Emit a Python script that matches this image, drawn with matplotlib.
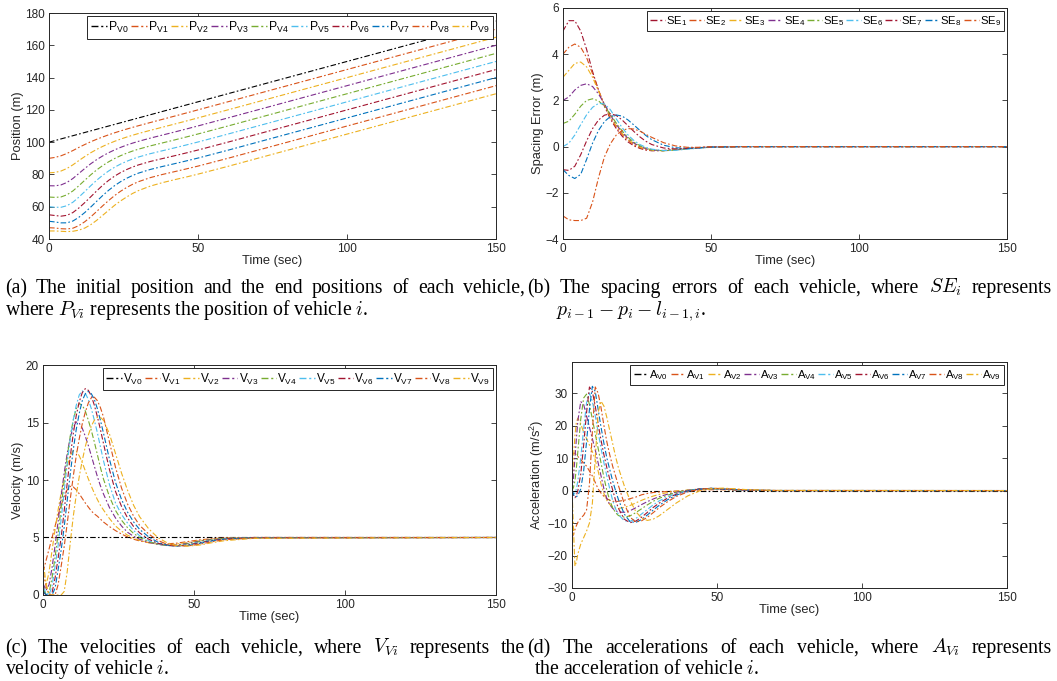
import matplotlib
matplotlib.use("Agg")
import matplotlib.pyplot as plt

# matlab default colour order
BLUE = (0.0, 0.447, 0.741)
ORANGE = (0.85, 0.325, 0.098)
YELLOW = (0.929, 0.694, 0.125)
PURPLE = (0.494, 0.184, 0.556)
GREEN = (0.466, 0.674, 0.188)
CYAN = (0.301, 0.745, 0.933)
DARKRED = (0.635, 0.078, 0.184)
AX_GRAY = "0.15"

VEH_COLORS = ["k", ORANGE, YELLOW, PURPLE, GREEN, CYAN, DARKRED, BLUE, ORANGE, YELLOW]
SE_COLORS = [DARKRED, ORANGE, YELLOW, PURPLE, GREEN, CYAN, DARKRED, BLUE, ORANGE]

# ---- leader vehicle (constant speed) ----
t_lead = [0, 150]
pos_v0 = [100, 175]
vel_v0 = [5, 5]
acc_v0 = [0, 0]

# ---- positions / spacing errors (same time grid) ----
t_se = [0, 2, 4, 6, 8, 10, 12, 14, 16, 18, 20, 22, 24, 26, 28, 30, 34, 38, 42, 46, 50, 60, 150]

pos_v1 = [90, 90.55, 91.55, 93.0, 94.8, 96.75, 98.55, 100.25, 101.8, 103.22, 104.55, 105.8, 106.97, 108.08, 109.15, 110.18, 112.17, 114.12, 116.07, 118.04, 120.02, 125, 170]
pos_v2 = [81, 81.25, 82.11, 83.7, 85.95, 88.6, 91.1, 93.45, 95.53, 97.37, 99.03, 100.53, 101.89, 103.13, 104.28, 105.35, 107.34, 109.24, 111.15, 113.08, 115.04, 120, 165]
pos_v3 = [73, 72.95, 73.51, 75.04, 77.5, 80.6, 83.7, 86.63, 89.21, 91.47, 93.46, 95.22, 96.77, 98.15, 99.39, 100.51, 102.52, 104.37, 106.23, 108.13, 110.06, 115, 160]
pos_v4 = [66, 65.8, 66.06, 67.39, 69.78, 73.0, 76.42, 79.78, 82.83, 85.51, 87.84, 89.87, 91.62, 93.14, 94.48, 95.66, 97.7, 99.51, 101.32, 103.18, 105.08, 110, 155]
pos_v5 = [60, 59.7, 59.66, 60.64, 62.78, 65.93, 69.44, 73.03, 76.43, 79.49, 82.16, 84.47, 86.43, 88.1, 89.55, 90.8, 92.88, 94.66, 96.42, 98.24, 100.11, 105, 150]
pos_v6 = [55, 54.55, 54.16, 54.69, 56.4, 59.23, 62.57, 66.18, 69.83, 73.29, 76.34, 78.97, 81.17, 83.01, 84.58, 85.91, 88.05, 89.82, 91.53, 93.31, 95.14, 100, 145]
pos_v7 = [51, 50.58, 50.01, 50.04, 51.15, 53.45, 56.42, 59.82, 63.41, 66.94, 70.19, 73.07, 75.52, 77.59, 79.35, 80.82, 83.11, 84.92, 86.61, 88.36, 90.16, 95, 140]
pos_v8 = [47, 46.83, 46.39, 46.24, 46.7, 48.3, 50.72, 53.74, 57.11, 60.57, 63.87, 66.92, 69.59, 71.89, 73.87, 75.52, 78.05, 79.97, 81.68, 83.41, 85.18, 90, 135]
pos_v9 = [45, 45.0, 44.8, 44.6, 44.8, 45.5, 46.8, 48.9, 51.6, 54.7, 57.8, 60.9, 63.6, 66.0, 68.2, 70.0, 72.8, 74.9, 76.7, 78.4, 80.2, 85, 130]

se_1 = [5.0, 5.45, 5.45, 5.0, 4.2, 3.25, 2.45, 1.75, 1.2, 0.78, 0.45, 0.2, 0.03, -0.08, -0.15, -0.18, -0.17, -0.12, -0.07, -0.04, -0.02, 0.0, 0.0]
se_2 = [4.0, 4.3, 4.44, 4.3, 3.85, 3.15, 2.45, 1.8, 1.27, 0.85, 0.52, 0.27, 0.08, -0.05, -0.13, -0.17, -0.17, -0.12, -0.08, -0.04, -0.02, 0.0, 0.0]
se_3 = [3.0, 3.3, 3.6, 3.66, 3.45, 3.0, 2.4, 1.82, 1.32, 0.9, 0.57, 0.31, 0.12, -0.02, -0.11, -0.16, -0.18, -0.13, -0.08, -0.05, -0.02, 0.0, 0.0]
se_4 = [2.0, 2.15, 2.45, 2.65, 2.72, 2.6, 2.28, 1.85, 1.38, 0.96, 0.62, 0.35, 0.15, 0.01, -0.09, -0.15, -0.18, -0.14, -0.09, -0.05, -0.02, 0.0, 0.0]
se_5 = [1.0, 1.1, 1.4, 1.75, 2.0, 2.07, 1.98, 1.75, 1.4, 1.02, 0.68, 0.4, 0.19, 0.04, -0.07, -0.14, -0.18, -0.15, -0.1, -0.06, -0.03, 0.0, 0.0]
se_6 = [0.0, 0.15, 0.5, 0.95, 1.38, 1.7, 1.87, 1.85, 1.6, 1.2, 0.82, 0.5, 0.26, 0.09, -0.03, -0.11, -0.17, -0.16, -0.11, -0.07, -0.03, 0.0, 0.0]
se_7 = [-1.0, -1.03, -0.85, -0.35, 0.25, 0.78, 1.15, 1.36, 1.42, 1.35, 1.15, 0.9, 0.65, 0.42, 0.23, 0.09, -0.06, -0.1, -0.08, -0.05, -0.02, 0.0, 0.0]
se_8 = [-1.0, -1.25, -1.38, -1.2, -0.55, 0.15, 0.7, 1.08, 1.3, 1.37, 1.32, 1.15, 0.93, 0.7, 0.48, 0.3, 0.06, -0.05, -0.07, -0.05, -0.02, 0.0, 0.0]
se_9 = [-3.0, -3.17, -3.2, -3.2, -3.1, -2.4, -1.35, -0.45, 0.12, 0.5, 0.7, 0.78, 0.76, 0.67, 0.53, 0.4, 0.17, 0.03, -0.03, -0.03, -0.01, 0.0, 0.0]

# ---- velocities ----
t_vel = [0, 1, 2, 3, 4, 5, 6, 7, 8, 9, 10, 11, 12, 13, 14, 15, 16, 17, 18, 19, 20,
         22, 24, 26, 28, 30, 32, 35, 38, 41, 44, 48, 52, 56, 60, 70, 150]

vel_v1 = [2.0, 3.0, 4.0, 5.0, 6.0, 6.95, 7.8, 8.55, 9.15, 9.45, 9.4, 9.15, 8.8, 8.4, 8.0, 7.65, 7.3, 7.05, 6.85, 6.6, 6.35,
          5.95, 5.6, 5.3, 5.05, 4.85, 4.7, 4.55, 4.47, 4.45, 4.5, 4.65, 4.8, 4.9, 4.96, 5.0, 5.0]
vel_v2 = [0.3, 0.8, 2.0, 3.9, 5.7, 7.4, 8.9, 10.1, 11.2, 12.1, 12.55, 12.5, 12.1, 11.5, 10.8, 10.1, 9.45, 8.85, 8.3, 7.8, 7.4,
          6.65, 6.0, 5.55, 5.2, 4.95, 4.75, 4.55, 4.42, 4.38, 4.42, 4.57, 4.74, 4.87, 4.95, 5.0, 5.0]
vel_v3 = [1.0, 0.4, 0.9, 2.4, 4.3, 6.4, 8.6, 10.6, 12.3, 13.7, 14.6, 15.05, 14.95, 14.5, 13.8, 13.0, 12.1, 11.2, 10.3, 9.5, 8.8,
          7.6, 6.7, 6.0, 5.45, 5.1, 4.85, 4.58, 4.4, 4.32, 4.35, 4.5, 4.7, 4.85, 4.94, 5.0, 5.0]
vel_v4 = [0.5, 0.1, 0.2, 1.5, 3.3, 5.3, 7.6, 9.9, 12.0, 13.8, 15.2, 16.2, 16.65, 16.5, 16.0, 15.2, 14.3, 13.3, 12.2, 11.1, 10.1,
          8.55, 7.35, 6.5, 5.85, 5.35, 5.0, 4.65, 4.42, 4.3, 4.3, 4.45, 4.65, 4.82, 4.92, 4.99, 5.0]
vel_v5 = [0.7, 0.2, 0.0, 0.8, 2.5, 4.3, 6.6, 9.0, 11.4, 13.5, 15.2, 16.5, 17.4, 17.75, 17.55, 17.0, 16.2, 15.2, 14.1, 12.9, 11.7,
          9.6, 8.0, 7.0, 6.25, 5.6, 5.15, 4.72, 4.45, 4.3, 4.27, 4.4, 4.6, 4.78, 4.9, 4.99, 5.0]
vel_v6 = [0.3, 0.0, 0.0, 0.2, 1.5, 3.2, 5.0, 7.3, 9.7, 12.0, 14.0, 15.6, 16.8, 17.6, 17.95, 17.8, 17.3, 16.5, 15.5, 14.4, 13.2,
          10.9, 9.0, 7.7, 6.7, 5.95, 5.4, 4.85, 4.5, 4.32, 4.26, 4.35, 4.55, 4.74, 4.88, 4.98, 5.0]
vel_v7 = [0.3, 0.05, 0.0, 0.0, 0.6, 2.2, 3.9, 5.9, 8.2, 10.5, 12.6, 14.4, 15.8, 16.9, 17.5, 17.7, 17.5, 17.0, 16.2, 15.2, 14.1,
          11.8, 9.8, 8.3, 7.2, 6.35, 5.7, 5.05, 4.6, 4.35, 4.26, 4.3, 4.5, 4.7, 4.85, 4.97, 5.0]
vel_v8 = [2.0, 0.8, 0.0, 0.0, 0.0, 0.9, 2.5, 4.2, 6.2, 8.3, 10.3, 12.1, 13.6, 14.9, 15.9, 16.7, 17.15, 17.2, 16.9, 16.3, 15.5,
          13.3, 11.1, 9.3, 7.9, 6.85, 6.05, 5.3, 4.75, 4.42, 4.27, 4.27, 4.42, 4.63, 4.8, 4.96, 5.0]
vel_v9 = [3.0, 1.0, 0.0, 0.0, 0.0, 0.0, 0.0, 0.3, 2.0, 4.5, 6.8, 8.7, 10.3, 11.7, 12.9, 13.9, 14.7, 15.2, 15.45, 15.45, 15.2,
          14.0, 12.3, 10.6, 9.1, 7.8, 6.8, 5.75, 5.0, 4.55, 4.32, 4.25, 4.35, 4.55, 4.72, 4.93, 5.0]

# ---- accelerations ----
t_acc = [0, 0.5, 1, 1.5, 2, 3, 4, 5, 6, 7, 8, 9, 10, 11, 12, 13, 14, 15, 16,
         18, 20, 22, 24, 26, 28, 30, 33, 36, 40, 44, 48, 52, 56, 60, 70, 150]

acc_v1 = [11, 11.5, 11.5, 11, 10.5, 9.5, 8.5, 7.5, 6.0, 4.5, 2.5, 0.5, -0.8, -1.8, -2.5, -3.0, -3.3, -3.4, -3.3,
          -3.0, -2.5, -2.0, -1.3, -0.9, -0.6, -0.45, -0.3, -0.15, 0.0, 0.15, 0.25, 0.25, 0.15, 0.05, 0.0, 0.0]
acc_v2 = [0, 10, 17, 21, 22.3, 20.5, 18, 16, 14, 12, 9.5, 6, 2.0, -1.0, -3.0, -4.3, -5.0, -5.4, -5.5,
          -5.2, -4.6, -3.8, -3.0, -2.3, -1.7, -1.2, -0.6, -0.2, 0.2, 0.4, 0.4, 0.3, 0.15, 0.05, 0.0, 0.0]
acc_v3 = [0, 4, 10, 16, 21.5, 27.4, 26.5, 23, 19.5, 16, 12.5, 8.5, 4.5, 0.5, -2.5, -4.3, -5.5, -6.2, -6.6,
          -6.7, -6.2, -5.3, -4.3, -3.4, -2.6, -1.9, -1.1, -0.5, 0.1, 0.45, 0.5, 0.35, 0.2, 0.08, 0.0, 0.0]
acc_v4 = [0, 1, 3, 7, 12, 22, 28.5, 29.7, 26.5, 22, 17.5, 13, 8.5, 4, 0, -3.0, -5.3, -6.8, -7.7,
          -8.2, -7.8, -6.8, -5.6, -4.4, -3.3, -2.4, -1.4, -0.6, 0.1, 0.5, 0.55, 0.4, 0.2, 0.08, 0.0, 0.0]
acc_v5 = [0, -1, -0.8, 0.5, 3, 10, 19, 27, 30, 27.5, 23, 18, 13, 8.5, 4.5, 0.5, -3.0, -5.6, -7.4,
          -9.3, -9.5, -8.6, -7.2, -5.8, -4.4, -3.2, -1.9, -0.9, 0.0, 0.5, 0.6, 0.45, 0.25, 0.1, 0.0, 0.0]
acc_v6 = [0, -1.5, -2.2, -1.5, 0, 5, 14, 24, 31.9, 30.5, 26, 20.5, 15.5, 11, 7, 3.5, 0.2, -3, -5.5,
          -8.8, -9.9, -9.4, -8.2, -6.7, -5.2, -3.9, -2.3, -1.1, -0.1, 0.5, 0.65, 0.5, 0.3, 0.12, 0.0, 0.0]
acc_v7 = [0, -1.2, -1.8, -1.9, -1.5, 0.5, 6, 15, 25, 32.1, 30.5, 25, 19.5, 14.5, 10, 6.5, 3, 0, -2.8,
          -7.2, -9.6, -9.8, -8.9, -7.5, -6.0, -4.6, -2.8, -1.4, -0.2, 0.45, 0.7, 0.55, 0.35, 0.15, 0.02, 0.0]
acc_v8 = [-14.5, -13.5, -12, -10.8, -9.8, -8.5, -7.6, -6.0, 2, 18, 31.9, 30, 25.5, 20, 15, 11, 7.5, 4.5, 1.5,
          -4, -8.2, -9.7, -9.3, -8.2, -6.8, -5.3, -3.4, -1.8, -0.4, 0.4, 0.7, 0.6, 0.4, 0.18, 0.03, 0.0]
acc_v9 = [0, -12, -23.3, -22, -19.5, -16.5, -14.5, -12.5, -10, -4, 10, 24, 27.5, 26, 22.5, 18.5, 14.5, 10.5, 7,
          1.5, -3, -6.5, -8.5, -9.2, -8.8, -7.8, -5.8, -3.8, -1.6, -0.1, 0.6, 0.75, 0.55, 0.3, 0.05, 0.0]

pos_followers = [pos_v1, pos_v2, pos_v3, pos_v4, pos_v5, pos_v6, pos_v7, pos_v8, pos_v9]
se_all = [se_1, se_2, se_3, se_4, se_5, se_6, se_7, se_8, se_9]
vel_followers = [vel_v1, vel_v2, vel_v3, vel_v4, vel_v5, vel_v6, vel_v7, vel_v8, vel_v9]
acc_followers = [acc_v1, acc_v2, acc_v3, acc_v4, acc_v5, acc_v6, acc_v7, acc_v8, acc_v9]

LS = (0, (5, 2, 1.5, 2))
LW = 0.8
W, H = 1057, 681


def style_axes(ax, ylabel, ylim, yticks):
    ax.set_xlim(0, 150)
    ax.set_xticks([0, 50, 100, 150])
    ax.set_ylim(*ylim)
    ax.set_yticks(yticks)
    ax.tick_params(direction="in", length=3.5, width=0.6, top=True, right=True,
                   colors=AX_GRAY, labelsize=8.5, pad=3)
    for s in ax.spines.values():
        s.set_color(AX_GRAY)
        s.set_linewidth(0.7)
    ax.set_xlabel("Time (sec)", fontsize=9.3, color=AX_GRAY, labelpad=0)
    ax.set_ylabel(ylabel, fontsize=9.3, color=AX_GRAY, labelpad=1)


def add_legend(ax, width_px, size=9.0):
    # one row legend, font scaled so that the box is width_px wide
    r = ax.figure.canvas.get_renderer()
    for _ in range(3):
        leg = ax.legend(ncol=10, loc="upper right", fontsize=size, handlelength=1.3,
                        handletextpad=0.1, columnspacing=0.2, borderpad=0.3,
                        borderaxespad=0.25, fancybox=False, framealpha=1,
                        edgecolor=AX_GRAY)
        size *= width_px / leg.get_window_extent(r).width
    leg.get_frame().set_linewidth(0.7)
    for h in leg.get_lines():
        h.set_linewidth(1.0)
    leg.set_zorder(10)


def vehicle_panel(ax, t, lead, followers, letter):
    ax.plot(t_lead, lead, color="k", ls=LS, lw=LW,
            label=r"%s$_{\mathregular{V0}}$" % letter)
    for i, ys in enumerate(followers):
        ax.plot(t, ys, color=VEH_COLORS[i + 1], ls=LS, lw=LW,
                label=r"%s$_{\mathregular{V%d}}$" % (letter, i + 1))


def justified(fig, x0, x1, y, text, **kw):
    # spread the words of a caption line between x0 and x1 (pixels)
    words = text.split(" ")
    r = fig.canvas.get_renderer()
    arts = [fig.text(0, y, w, **kw) for w in words]
    widths = [a.get_window_extent(r).width for a in arts]
    gap = (x1 - x0 - sum(widths)) / (len(words) - 1)
    x = x0
    for a, w in zip(arts, widths):
        a.set_x(x / W)
        x += w + gap


plt.rcParams["font.family"] = ["Liberation Sans", "DejaVu Sans"]

fig = plt.figure(figsize=(W / 100, H / 100), dpi=100)

ax_a = fig.add_axes([0.0464, 0.6490, 0.4229, 0.3319])
vehicle_panel(ax_a, t_se, pos_v0, pos_followers, "P")
style_axes(ax_a, "Position (m)", (40, 180), range(40, 181, 20))
add_legend(ax_a, 406)

ax_b = fig.add_axes([0.5326, 0.6490, 0.4201, 0.3393])
for i, ys in enumerate(se_all):
    ax_b.plot(t_se, ys, color=SE_COLORS[i], ls=LS, lw=LW,
              label=r"SE$_{\mathregular{%d}}$" % (i + 1))
style_axes(ax_b, "Spacing Error (m)", (-4, 6), range(-4, 7, 2))
add_legend(ax_b, 357)

ax_c = fig.add_axes([0.0407, 0.1263, 0.4286, 0.3377])
vehicle_panel(ax_c, t_vel, vel_v0, vel_followers, "V")
style_axes(ax_c, "Velocity (m/s)", (0, 20), range(0, 21, 5))
add_legend(ax_c, 390)

ax_d = fig.add_axes([0.5412, 0.1366, 0.4115, 0.3319])
vehicle_panel(ax_d, t_acc, acc_v0, acc_followers, "A")
style_axes(ax_d, r"Acceleration (m/s$^{\mathregular{2}}$)", (-30, 39.6), range(-30, 31, 10))
add_legend(ax_d, 375)

cap = dict(fontsize=14.2, family="Liberation Serif", math_fontfamily="cm",
           color="k", va="baseline", ha="left")
y1_top, y2_top = 1 - 293 / H, 1 - 315 / H
y1_bot, y2_bot = 1 - 653 / H, 1 - 674 / H
justified(fig, 5, 525, y1_top, "(a) The initial position and the end positions of each vehicle,", **cap)
fig.text(5 / W, y2_top, r"where $P_{Vi}$ represents the position of vehicle $i$.", **cap)
justified(fig, 527, 1052, y1_top, r"(b) The spacing errors of each vehicle, where $SE_i$ represents", **cap)
fig.text(556 / W, y2_top, r"$p_{i-1} - p_i - l_{i-1,i}$.", **cap)
justified(fig, 5, 525, y1_bot, r"(c) The velocities of each vehicle, where $V_{Vi}$ represents the", **cap)
fig.text(5 / W, y2_bot, r"velocity of vehicle $i$.", **cap)
justified(fig, 527, 1052, y1_bot, r"(d) The accelerations of each vehicle, where $A_{Vi}$ represents", **cap)
fig.text(534 / W, y2_bot, r"the acceleration of vehicle $i$.", **cap)

fig.savefig("out.png", dpi=100)
